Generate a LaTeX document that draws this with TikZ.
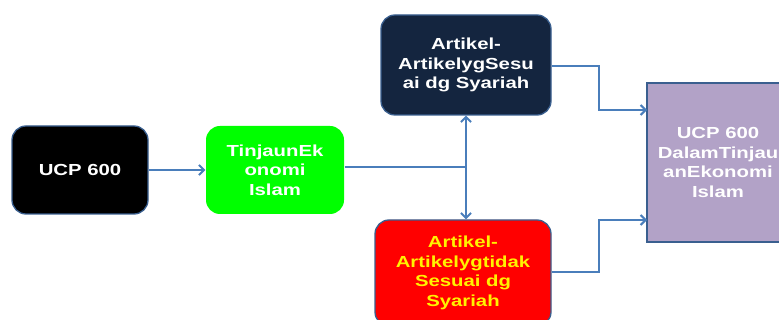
\documentclass[tikz,border=0pt]{standalone}
\usepackage{fontspec}
\setmainfont{Liberation Sans}[FakeStretch=1.27]
\usetikzlibrary{arrows.meta}
\definecolor{edgeblue}{HTML}{4A7EBB}
\definecolor{boxline}{HTML}{3A5F8F}
\definecolor{navy}{HTML}{14253F}
\definecolor{lilac}{HTML}{B2A2C7}
\tikzset{
  box/.style={draw=boxline, line width=1.3pt, rounded corners=14pt, align=center,
    font=\bfseries\fontsize{16}{19.5}\selectfont, inner sep=0pt},
  conn/.style={draw=edgeblue, line width=2pt},
  arr/.style={conn, -{Straight Barb[length=5pt,width=10pt]}},
}
\begin{document}
\begin{tikzpicture}[x=1pt,y=-1pt]
\useasboundingbox (0,0) rectangle (779,320);
\clip (0,0) rectangle (779,320);
\node[box, fill=black, text=white, minimum width=136pt, minimum height=88pt] (ucp) at (80,170) {UCP 600};
\node[box, draw=none, fill=green, text=white, minimum width=138pt, minimum height=88pt] (tin) at (275,170) {TinjaunEk\\onomi\\Islam};
\node[box, fill=navy, text=white, minimum width=170pt, minimum height=100pt] (ses) at (466,65) {Artikel-\\ArtikelygSesu\\ai dg Syariah};
\node[box, fill=red, text=yellow, minimum width=176pt, minimum height=106pt] (tid) at (463,273) {Artikel-\\Artikelygtidak\\Sesuai dg\\Syariah};
\node[box, rounded corners=0pt, fill=lilac, text=white, minimum width=142pt, minimum height=159pt] (res) at (718,162.5) {UCP 600\\DalamTinjau\\anEkonomi\\Islam};
\coordinate (j) at (466,167);
\coordinate (p1) at (647,110);
\coordinate (p2) at (647,220);
\draw[arr] (ucp.east) -- (tin.west);
\draw[conn] (tin.east |- j) -- (j);
\draw[arr] (j) -- (ses.south -| j);
\draw[arr] (j) -- (tid.north -| j);
\draw[arr] (ses.east |- 0,66) -- (599,66) |- (p1);
\draw[arr] (tid.east |- 0,272) -- (599,272) |- (p2);
\end{tikzpicture}
\end{document}
